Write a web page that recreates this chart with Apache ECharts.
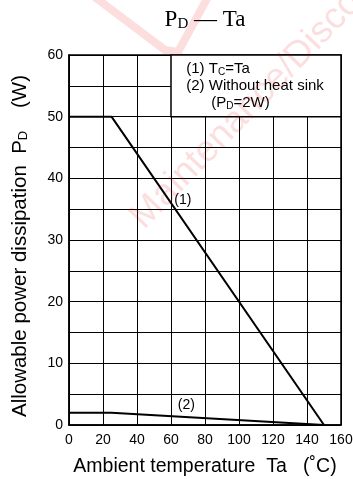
<!DOCTYPE html>
<html><head><meta charset="utf-8">
<script src="https://cdn.jsdelivr.net/npm/echarts@6/dist/echarts.min.js"></script>
<style>html,body{margin:0;padding:0;background:#fff}#c{width:353px;height:479px}</style>
</head><body><div id="c"></div>
<script>
const xTicks = [0,20,40,60,80,100,120,140,160];
const yTicks = [0,10,20,30,40,50,60];
const curve1Ta = [0,25,150];
const curve1Pd = [50,50,0];
const curve2Ta = [0,25,150];
const curve2Pd = [2,2,0];
const curveLabels = ['(1)','(2)'];
const labelPos = [[67,36.5],[69,3.3]];
const noteBox = [[60,60],[160,50]];

const ff = '"Liberation Sans", Arial, sans-serif';
const wm = 'rgba(235,0,0,0.13)';
const chart = echarts.init(document.getElementById('c'), null, {renderer:'canvas'});
const subStyle = (fs, lh) => ({fontSize: fs, fontFamily: ff, color:'#000', verticalAlign:'bottom', lineHeight: lh});
chart.setOption({
  animation:false,
  backgroundColor:'#fff',
  title:{
    text:'P{s|D} — Ta', left: 200, top: 3, textAlign:'center',
    textStyle:{fontFamily:'"Liberation Serif", "Times New Roman", serif', fontSize:23, fontWeight:'normal', color:'#000', lineHeight:24,
      rich:{s:{fontFamily:'"Liberation Serif", serif', fontSize:15, lineHeight:13, verticalAlign:'bottom', color:'#000'}}}
  },
  graphic:[
    {type:'polyline', silent:true, z:100, shape:{points:[[92,-5],[165,50],[178,52],[209,-5]]}, style:{stroke:wm, lineWidth:8, fill:null, lineJoin:'round'}},
    {type:'text', silent:true, z:100, x:150, y:236, rotation:46*Math.PI/180,
      style:{text:'Maintenance/Discontinued', fontFamily:ff, fontSize:37, fill:wm, textAlign:'left', textVerticalAlign:'bottom'}}
  ],
  grid:{left:69, right:12, top:55, bottom:54, show:true, borderColor:'#000', borderWidth:1.5, backgroundColor:'transparent', containLabel:false, outerBoundsMode:'none'},
  xAxis:{type:'value', min:xTicks[0], max:xTicks[xTicks.length-1], interval:20,
    name:'Ambient temperature  Ta   (˚C)', nameLocation:'middle', nameGap:32,
    nameTextStyle:{fontFamily:ff, fontSize:19.5, color:'#000', lineHeight:20},
    axisLine:{show:true, lineStyle:{color:'#000', width:1.5}}, axisTick:{show:false},
    axisLabel:{fontFamily:ff, fontSize:14, color:'#000', margin:8},
    splitLine:{show:true, lineStyle:{color:'#000', width:1}}},
  yAxis:{type:'value', min:yTicks[0], max:yTicks[yTicks.length-1], interval:5,
    name:'Allowable power dissipation  P{s|D}    (W)', nameLocation:'middle', nameGap:39,
    nameTextStyle:{fontFamily:ff, fontSize:20.5, color:'#000', lineHeight:20, padding:[0,12,0,0], rich:{s:subStyle(13,8)}},
    axisLine:{show:true, lineStyle:{color:'#000', width:1.5}}, axisTick:{show:false},
    axisLabel:{fontFamily:ff, fontSize:14, color:'#000', margin:6, formatter:(v)=> (yTicks.indexOf(v)>=0 ? String(v) : '')},
    splitLine:{show:true, lineStyle:{color:'#000', width:1}}},
  series:[
    {type:'line', data: curve1Ta.map((t,i)=>[t,curve1Pd[i]]), symbol:'none', lineStyle:{color:'#000', width:2}, z:5,
      markArea:{silent:true, itemStyle:{color:'#fff', borderColor:'#000', borderWidth:1.5},
        label:{show:true, position:'insideTopLeft', distance:0, padding:[6,0,0,16], fontFamily:ff, fontSize:15, color:'#000', lineHeight:17,
          formatter:'(1) T{s|C}=Ta\n(2) Without heat sink\n      (P{s|D}=2W)',
          rich:{s:subStyle(10,7)}},
        data:[[{coord:noteBox[0]},{coord:noteBox[1]}]]},
      markPoint:{symbol:'circle', symbolSize:0, silent:true,
        label:{show:true, position:'inside', fontFamily:ff, fontSize:14, color:'#000'},
        data: labelPos.map((p,i)=>({coord:p, value:curveLabels[i], label:{formatter:curveLabels[i]}}))}
    },
    {type:'line', data: curve2Ta.map((t,i)=>[t,curve2Pd[i]]), symbol:'none', lineStyle:{color:'#000', width:2}, z:5}
  ]
});
</script></body></html>
